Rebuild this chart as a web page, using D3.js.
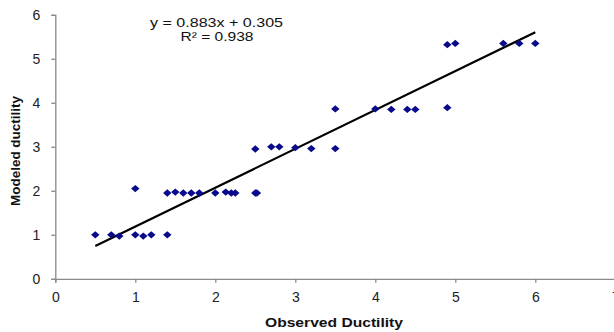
<!DOCTYPE html>
<html><head><meta charset="utf-8">
<script src="https://cdn.jsdelivr.net/npm/d3@7/dist/d3.min.js"></script>
<style>body{margin:0;background:#fff;} text{font-family:"Liberation Sans",Arial,sans-serif;}</style>
</head><body><svg id="c" width="614" height="332"></svg>
<script>
const observed = [0.5,0.7,0.8,1.0,1.1,1.2,1.4, 1.0,1.4,1.5,1.6,1.7,1.8,2.0,2.13,2.2,2.25,2.5,2.52, 2.5,2.7,2.8,3.0,3.2,3.5,3.5, 4.0,4.2,4.4,4.5,4.9, 4.9,5.0,5.6,5.8,6.0];
const modeled  = [1.0,1.0,0.97,1.0,0.97,1.0,1.0, 2.05,1.95,1.97,1.95,1.95,1.95,1.95,1.97,1.95,1.95,1.95,1.95, 2.95,3.0,3.0,2.98,2.96,2.96,3.86, 3.86,3.85,3.85,3.85,3.89, 5.32,5.35,5.35,5.35,5.35];
const slope = 0.883, intercept = 0.305;
const xTicks = [0,1,2,3,4,5,6,7];
const yTicks = [0,1,2,3,4,5,6];
const eqText = "y = 0.883x + 0.305";
const r2Text = "R² = 0.938";
const xTitle = "Observed Ductility";
const yTitle = "Modeled ductility";

const svg = d3.select("#c");
const x = d3.scaleLinear().domain([0,7]).range([55.3,615.3]);
const y = d3.scaleLinear().domain([0,6]).range([278.8,14.8]);

const xa = svg.append("g").attr("transform","translate(0,"+y(0)+")")
  .call(d3.axisBottom(x).tickValues(xTicks).tickSize(4).tickPadding(9).tickFormat(d3.format("d")));
const ya = svg.append("g").attr("transform","translate("+x(0)+",0)")
  .call(d3.axisLeft(y).tickValues(yTicks).tickSize(4).tickPadding(11).tickFormat(d3.format("d")));
[xa,ya].forEach(a=>{
  a.selectAll("path,line").attr("stroke","#8a8a8a").attr("stroke-width",1.3);
  a.selectAll("text").attr("font-size",14).attr("fill","#222").attr("font-family","'Liberation Sans',Arial,sans-serif");
});

// trendline
svg.append("line")
  .attr("x1",x(0.5)).attr("y1",y(slope*0.5+intercept))
  .attr("x2",x(6)).attr("y2",y(slope*6+intercept))
  .attr("stroke","#000").attr("stroke-width",2.2);

const pts = observed.map((v,i)=>[v,modeled[i]]);
svg.append("g").selectAll("path").data(pts).join("path")
  .attr("d", d3.symbol(d3.symbolDiamond2 || d3.symbolDiamond, 34)())
  .attr("transform",d=>"translate("+x(d[0])+","+y(d[1])+") scale(1.15,1)")
  .attr("fill","#0a0a8c");

svg.append("text").attr("x",216.5).attr("y",27).attr("text-anchor","middle")
  .attr("font-size",13.5).attr("fill","#111")
  .attr("textLength",133).attr("lengthAdjust","spacingAndGlyphs").text(eqText);
svg.append("text").attr("x",217).attr("y",41).attr("text-anchor","middle")
  .attr("font-size",13.5).attr("fill","#111")
  .attr("textLength",73).attr("lengthAdjust","spacingAndGlyphs").text(r2Text);

svg.append("text").attr("x",334).attr("y",327).attr("text-anchor","middle")
  .attr("font-size",13.5).attr("font-weight","bold").attr("fill","#111")
  .attr("textLength",138).attr("lengthAdjust","spacingAndGlyphs").text(xTitle);
svg.append("text").attr("transform","translate(19.5,151) rotate(-90)").attr("text-anchor","middle")
  .attr("font-size",13.5).attr("font-weight","bold").attr("fill","#111")
  .attr("textLength",110).attr("lengthAdjust","spacingAndGlyphs").text(yTitle);
</script></body></html>
